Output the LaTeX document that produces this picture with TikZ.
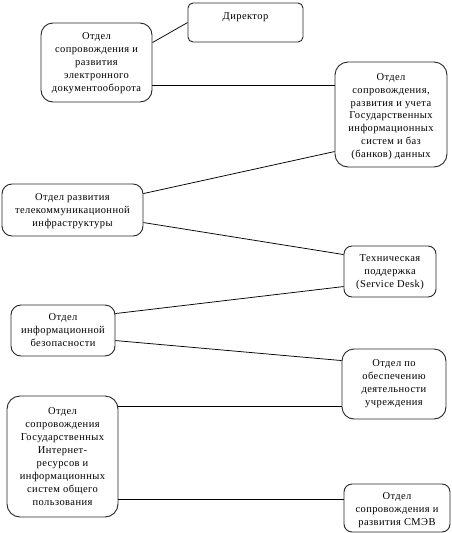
\documentclass[tikz,border=0pt]{standalone}
\usepackage{fontspec}
\setmainfont{Liberation Serif}[LetterSpace=4]
\begin{document}
\begin{tikzpicture}[x=1pt,y=-1pt,
  box/.style={draw=black!85, rounded corners=#1, inner sep=0pt, line width=0.9pt},
  box/.default=10pt,
  txt/.style={anchor=north, inner sep=0pt, align=center, font=\fontsize{10.5}{12.9}\selectfont},
  link/.style={draw=black, line width=0.75pt}]
\useasboundingbox (0,0) rectangle (452,533);
% boxes
\node[box=5pt,  minimum width=115pt, minimum height=39pt]  (dir)   at (245.5,22.5) {};
\node[box=12pt, minimum width=111pt, minimum height=79pt]  (edoc)  at (96.5,62.5) {};
\node[box=13pt, minimum width=112pt, minimum height=105pt] (gis)   at (391,114.5) {};
\node[box=10pt, minimum width=141pt, minimum height=52pt]  (tel)   at (72.5,210) {};
\node[box=8pt,  minimum width=92pt,  minimum height=51pt]  (tech)  at (390,271.5) {};
\node[box=10pt, minimum width=104pt, minimum height=51pt]  (sec)   at (63,330.5) {};
\node[box=12pt, minimum width=104pt, minimum height=70pt]  (obesp) at (394,384) {};
\node[box=13pt, minimum width=111pt, minimum height=121pt] (inet)  at (62.5,456.5) {};
\node[box=8pt,  minimum width=106pt, minimum height=48pt]  (smev)  at (397,508) {};
% texts
\node[txt] (tdir)   at ([yshift=-10pt]dir.north)   {Директор};
\node[txt] (tedoc)  at ([yshift=-10pt]edoc.north)  {Отдел\\сопровождения и\\развития\\электронного\\документооборота};
\node[txt] (tgis)   at ([yshift=-11.5pt]gis.north)    {Отдел\\сопровождения,\\развития и учета\\Государственных\\информационных\\систем и баз\\(банков) данных};
\node[txt] (ttel)   at ([yshift=-10pt]tel.north)   {Отдел развития\\телекоммуникационной\\инфраструктуры};
\node[txt] (ttech)  at ([yshift=-9pt]tech.north)  {Техническая\\поддержка\\(Service Desk)};
\node[txt] (tsec)   at ([yshift=-9pt]sec.north)   {Отдел\\информационной\\безопасности};
\node[txt] (tobesp) at ([yshift=-11pt]obesp.north){Отдел по\\обеспечению\\деятельности\\учреждения};
\node[txt] (tinet)  at ([yshift=-12pt]inet.north) {Отдел\\сопровождения\\Государственных\\Интернет-\\ресурсов и\\информационных\\систем общего\\пользования};
\node[txt] (tsmev)  at ([yshift=-9pt]smev.north)  {Отдел\\сопровождения и\\развития СМЭВ};
% connectors
\draw[link] ([yshift=-20pt]edoc.north east) -- ([yshift=-20pt]dir.north west);
\draw[link] ([yshift=-63pt]edoc.north east) -- ([yshift=-24pt]gis.north west);
\draw[link] ([yshift=-10pt]tel.north east)  -- ([yshift=-90pt]gis.north west);
\draw[link] ([yshift=-39pt]tel.north east)  -- ([yshift=-9pt]tech.north west);
\draw[link] ([yshift=-9pt]sec.north east)   -- ([yshift=-41pt]tech.north west);
\draw[link] ([yshift=-36pt]sec.north east)  -- ([yshift=-12pt]obesp.north west);
\draw[link] ([yshift=-11pt]inet.north east) -- ([yshift=-58pt]obesp.north west);
\draw[link] ([yshift=-104pt]inet.north east) -- ([yshift=-16pt]smev.north west);
\end{tikzpicture}
\end{document}
